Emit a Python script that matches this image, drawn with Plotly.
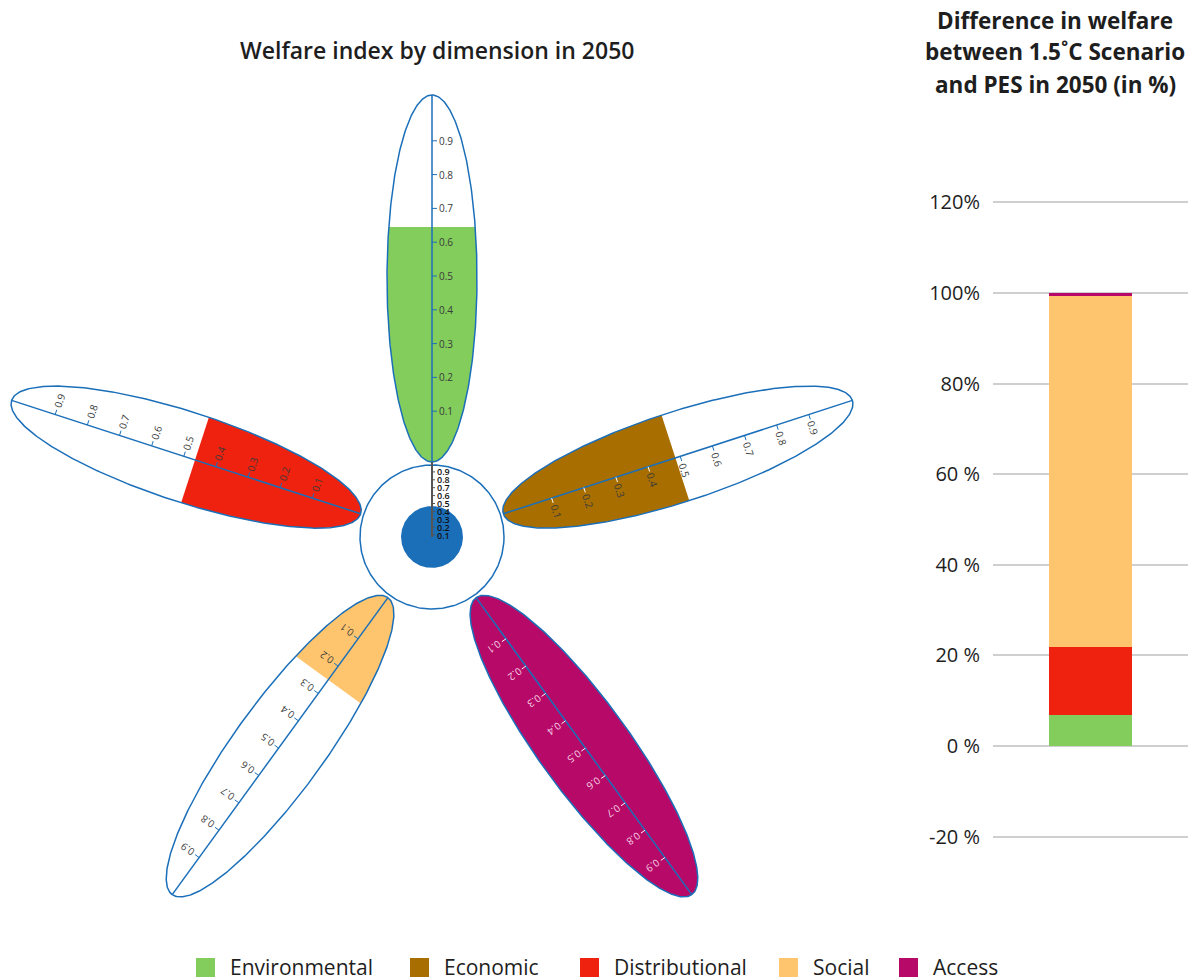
import numpy as np
import plotly.graph_objects as go

# ---------------- data ----------------
dimensions = ["Environmental", "Economic", "Distributional", "Social", "Access"]
dimension_colors = ["#82CD5C", "#A86F00", "#EE220F", "#FFC56E", "#B70A68"]
petal_angles_deg = [90, 18, 162, 234, 306]
welfare_index_2050 = [0.645, 0.485, 0.465, 0.25, 1.0]
overall_welfare_index = 0.43
scale_ticks = [0.1, 0.2, 0.3, 0.4, 0.5, 0.6, 0.7, 0.8, 0.9]

welfare_difference_pct = [6.9, 0.0, 15.0, 77.4, 0.7]
bar_tickvals = [-20, 0, 20, 40, 60, 80, 100, 120]
bar_ticktext = ["-20 %", "0 %", "20 %", "40 %", "60 %", "80%", "100%", "120%"]

# ---------------- styling / geometry ----------------
W, H = 1200, 980
BLUE = "#1B6FB9"
FONT = "Open Sans"
R_CENTER = 72          # radius of the central ring
PETAL_BASE = 75        # distance of petal base from the centre
PETAL_TIP = 442        # distance of petal tip from the centre
PETAL_HALF_W = 45      # half width of a petal
AXIS_ZERO = 92         # distance where index 0 sits on a petal axis
AXIS_UNIT = 338        # length of one index unit along a petal axis
C_ZERO, C_UNIT = -6, 79  # small central scale

petal_c = (PETAL_BASE + PETAL_TIP) / 2
petal_a = (PETAL_TIP - PETAL_BASE) / 2


def to_xy(theta, s, w):
    """along-axis distance s and lateral offset w -> cartesian"""
    ct, st = np.cos(theta), np.sin(theta)
    return s * ct - w * st, s * st + w * ct


def ellipse(theta, t):
    s = petal_c + petal_a * np.cos(t)
    w = PETAL_HALF_W * np.sin(t)
    return to_xy(theta, s, w)


fig = go.Figure()
annotations = []

# ---------------- petals ----------------
for name, col, ang, val in zip(dimensions, dimension_colors, petal_angles_deg, welfare_index_2050):
    th = np.radians(ang)
    s_cut = AXIS_ZERO + AXIS_UNIT * val
    if val >= 1 or s_cut >= PETAL_TIP:
        t = np.linspace(0, 2 * np.pi, 300)
    else:
        t0 = np.arccos(np.clip((s_cut - petal_c) / petal_a, -1, 1))
        t = np.linspace(t0, 2 * np.pi - t0, 300)
    fx, fy = ellipse(th, t)
    fig.add_trace(go.Scatter(x=np.append(fx, fx[0]), y=np.append(fy, fy[0]), mode="lines",
                             fill="toself", fillcolor=col, line=dict(width=0, color=col),
                             hoverinfo="skip", showlegend=False, xaxis="x", yaxis="y"))
    t = np.linspace(0, 2 * np.pi, 400)
    ex, ey = ellipse(th, t)
    fig.add_trace(go.Scatter(x=ex, y=ey, mode="lines", line=dict(color=BLUE, width=1.5),
                             hoverinfo="skip", showlegend=False, xaxis="x", yaxis="y"))
    # axis line
    ax0 = to_xy(th, PETAL_BASE, 0)
    ax1 = to_xy(th, PETAL_TIP, 0)
    fig.add_trace(go.Scatter(x=[ax0[0], ax1[0]], y=[ax0[1], ax1[1]], mode="lines",
                             line=dict(color=BLUE, width=1.5), hoverinfo="skip",
                             showlegend=False, xaxis="x", yaxis="y"))
    # ticks and labels
    nth = th - np.pi / 2
    txt_angle = ((90 - ang) + 180) % 360 - 180
    dark_fill = name in ("Economic", "Access")
    tx_in, ty_in, tx_out, ty_out = [], [], [], []
    for v in scale_ticks:
        s = AXIS_ZERO + AXIS_UNIT * v
        px, py = to_xy(th, s, 0)
        qx, qy = px + 5 * np.cos(nth), py + 5 * np.sin(nth)
        inside = v <= val
        if dark_fill and inside:
            tx_in += [px, qx, None]
            ty_in += [py, qy, None]
        else:
            tx_out += [px, qx, None]
            ty_out += [py, qy, None]
        lx, ly = px + 14 * np.cos(nth), py + 14 * np.sin(nth)
        lab_col = "#F6D3E6" if (name == "Access" and inside) else "#3A3A3A"
        annotations.append(dict(x=lx, y=ly, xref="x", yref="y", text=f"{v:.1f}",
                                showarrow=False, textangle=txt_angle,
                                xanchor="center", yanchor="middle",
                                font=dict(family=FONT, size=10, color=lab_col)))
    if tx_in:
        fig.add_trace(go.Scatter(x=tx_in, y=ty_in, mode="lines", line=dict(color="white", width=1),
                                 hoverinfo="skip", showlegend=False, xaxis="x", yaxis="y"))
    if tx_out:
        fig.add_trace(go.Scatter(x=tx_out, y=ty_out, mode="lines", line=dict(color=BLUE, width=1),
                                 hoverinfo="skip", showlegend=False, xaxis="x", yaxis="y"))

# ---------------- central ring ----------------
t = np.linspace(0, 2 * np.pi, 300)
fig.add_trace(go.Scatter(x=R_CENTER * np.cos(t), y=R_CENTER * np.sin(t), mode="lines",
                         line=dict(color=BLUE, width=1.5), hoverinfo="skip",
                         showlegend=False, xaxis="x", yaxis="y"))
r_dot = overall_welfare_index * R_CENTER
fig.add_trace(go.Scatter(x=r_dot * np.cos(t), y=r_dot * np.sin(t), mode="lines", fill="toself",
                         fillcolor=BLUE, line=dict(color=BLUE, width=0), hoverinfo="skip",
                         showlegend=False, xaxis="x", yaxis="y"))
fig.add_trace(go.Scatter(x=[0, 0], y=[0, PETAL_BASE], mode="lines",
                         line=dict(color="#555555", width=2), hoverinfo="skip",
                         showlegend=False, xaxis="x", yaxis="y"))
cx, cy = [], []
for v in scale_ticks:
    yy = C_ZERO + C_UNIT * v
    cx += [0, 3, None]
    cy += [yy, yy, None]
    annotations.append(dict(x=3.5, y=yy, xref="x", yref="y", text=f"{v:.1f}", showarrow=False,
                            xanchor="left", yanchor="middle", borderpad=0,
                            font=dict(family=FONT, size=9, color="#111111", weight=600)))
fig.add_trace(go.Scatter(x=cx, y=cy, mode="lines", line=dict(color="#555555", width=1),
                         hoverinfo="skip", showlegend=False, xaxis="x", yaxis="y"))

# ---------------- stacked bar ----------------
for name, col, val in zip(dimensions, dimension_colors, welfare_difference_pct):
    fig.add_trace(go.Bar(x=[0], y=[val], name=name, marker=dict(color=col, line=dict(width=0)),
                         width=0.425, showlegend=False, xaxis="x2", yaxis="y2",
                         hovertemplate=name + ": %{y:.1f}%<extra></extra>"))

# ---------------- titles ----------------
annotations.append(dict(x=437 / W, y=1 - 50 / H, xref="paper", yref="paper",
                        text="Welfare index by dimension in 2050", showarrow=False,
                        xanchor="center", yanchor="middle",
                        font=dict(family=FONT, size=23, color="#1E1E1E", weight=600)))
for i, line in enumerate(["Difference in welfare", "between 1.5˚C Scenario", "and PES in 2050 (in %)"]):
    annotations.append(dict(x=1055 / W, y=1 - (20 + 32 * i) / H, xref="paper", yref="paper",
                            text=line, showarrow=False, xanchor="center", yanchor="middle",
                            font=dict(family=FONT, size=22.5, color="#1E1E1E", weight=700)))

# ---------------- legend ----------------
shapes = []
legend_x = [196, 410, 580, 779, 899]
for name, col, lx in zip(dimensions, dimension_colors, legend_x):
    shapes.append(dict(type="rect", xref="paper", yref="paper",
                       x0=lx / W, x1=(lx + 19) / W, y0=1 - 977 / H, y1=1 - 958 / H,
                       fillcolor=col, line=dict(width=0)))
    annotations.append(dict(x=(lx + 32) / W, y=1 - 967 / H, xref="paper", yref="paper",
                            text=name, showarrow=False, xanchor="left", yanchor="middle",
                            font=dict(family=FONT, size=21, color="#1E1E1E")))

# ---------------- layout ----------------
fig.update_layout(
    width=W, height=H, margin=dict(l=0, r=0, t=0, b=0),
    paper_bgcolor="white", plot_bgcolor="white",
    barmode="stack", showlegend=False,
    xaxis=dict(domain=[0, 960 / W], range=[-432, 528], visible=False, fixedrange=True),
    yaxis=dict(domain=[0, 1], range=[-443, 537], visible=False, fixedrange=True),
    xaxis2=dict(domain=[993 / W, 1188 / W], range=[-0.5, 0.5], visible=False,
                anchor="y2", fixedrange=True),
    yaxis2=dict(domain=[0, 1], range=[-51.66, 164.68], anchor="x2",
                tickvals=bar_tickvals, ticktext=bar_ticktext,
                showgrid=True, gridcolor="#CFCFCF", gridwidth=1.5,
                zeroline=False, showline=False, ticks="",
                ticklabelstandoff=12,
                tickfont=dict(family=FONT, size=20, color="#1E1E1E"), fixedrange=True),
    annotations=annotations, shapes=shapes,
)

fig.write_html("out.html")
